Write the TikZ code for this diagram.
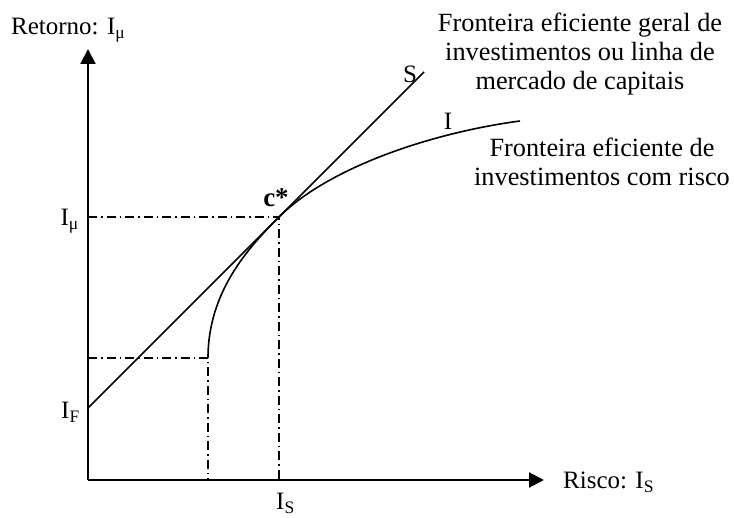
\documentclass[tikz,border=0pt]{standalone}
\usepackage{fontspec}
\setmainfont{Liberation Serif}
\usetikzlibrary{arrows.meta}
\begin{document}
\begin{tikzpicture}[x=1pt,y=-1pt,
  lbl/.style={font=\fontsize{25}{29.5}\selectfont, inner sep=0pt},
  blk/.style={font=\fontsize{26.3}{29}\selectfont, inner sep=0pt, align=center, anchor=north},
  axis/.style={line width=2pt,-{Triangle[length=15pt,width=15pt]}},
  curve/.style={line width=1.6pt},
  guide/.style={line width=1.5pt,dash pattern=on 9pt off 4pt on 1.5pt off 4pt}]
\useasboundingbox (0,0) rectangle (734,518);
% points
\coordinate (O) at (88,480);
\coordinate (ytip) at (88,49);
\coordinate (xtip) at (544,480);
\coordinate (F) at (88,408);
\coordinate (C) at (279,217);
\coordinate (Send) at (424,72);
\coordinate (P) at (208,358);
\coordinate (Iend) at (520,121);
\coordinate (Cy) at (88,217);
\coordinate (Cx) at (279,480);
\coordinate (Py) at (88,358);
\coordinate (Px) at (208,480);
% axes
\draw[axis] (O) -- (ytip);
\draw[axis] (O) -- (xtip);
% guides
\draw[guide] (Cy) -- (C) -- (Cx);
\draw[guide] (Py) -- (P) -- (Px);
% lines
\draw[curve] (F) -- (Send);
\draw[curve] (P) .. controls (208,292) and (248,248) .. (C)
             .. controls (328,168) and (430,133) .. (Iend);
% labels
\node[lbl,anchor=base west] (ret) at (11,35) {Retorno: I\textsubscript{μ}};
\node[lbl,anchor=base west] (ris) at (563,489) {Risco: I\textsubscript{S}};
\node[lbl,anchor=base east] (iu) at (79,226) {I\textsubscript{μ}};
\node[lbl,anchor=base east] (if) at (80,419) {I\textsubscript{F}};
\node[lbl,anchor=base west] (is) at (276,510) {I\textsubscript{S}};
\node[lbl,anchor=base,font=\fontsize{27}{30}\selectfont] (cs) at (276,207) {\textbf{c*}};
\node[lbl,anchor=base] (sl) at (410,83) {S};
\node[lbl,anchor=base] (il) at (448,130) {I};
\node[blk] (t1) at (580,13) {Fronteira eficiente geral de\\investimentos ou linha de\\mercado de capitais};
\node[blk] (t2) at (602,138) {Fronteira eficiente de\\investimentos com risco};
\end{tikzpicture}
\end{document}
